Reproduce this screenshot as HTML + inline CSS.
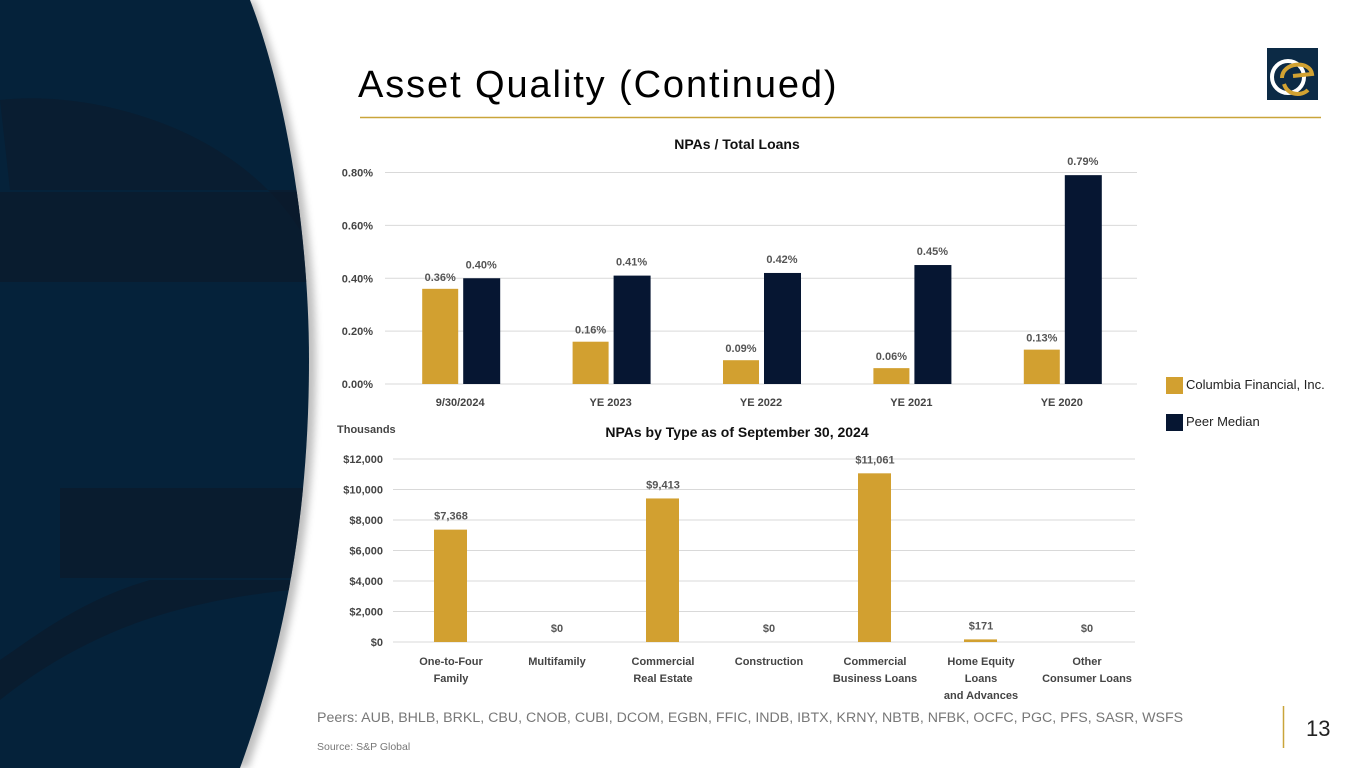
<!DOCTYPE html>
<html><head><meta charset="utf-8"><style>
body{margin:0;width:1365px;height:768px;overflow:hidden;background:#fff;font-family:"Liberation Sans",sans-serif;position:relative}
.abs{position:absolute}
</style></head><body>
<svg class="abs" style="left:0;top:0" width="1365" height="768">
<defs><filter id="sh" x="-10%" y="-10%" width="130%" height="130%"><feGaussianBlur stdDeviation="4"/></filter>
<clipPath id="pc"><path d="M0,0 L250,0 C285,90 309,230 309,360 C309,520 283,650 240,768 L0,768 Z"/></clipPath></defs>
<path d="M0,0 L254,0 C290,90 316,230 316,360 C316,520 290,650 248,768 L0,768 Z" fill="#000" opacity="0.25" filter="url(#sh)"/>
<path d="M0,0 L250,0 C285,90 309,230 309,360 C309,520 283,650 240,768 L0,768 Z" fill="#05223a"/>
<g clip-path="url(#pc)">
<path d="M0,100 C80,90 230,120 300,230 L300,190 L10,190 Z" fill="#0b1a2b" opacity="0.6"/>
<rect x="0" y="192" width="320" height="90" fill="#0b1a2b" opacity="0.7"/>
<rect x="60" y="488" width="260" height="90" fill="#0b1a2b" opacity="0.7"/>
<path d="M0,700 C100,620 200,600 290,590 L290,580 L150,580 C80,600 30,640 0,660 Z" fill="#0b1a2b" opacity="0.7"/>
</g>
<line x1="360" y1="117.5" x2="1321" y2="117.5" stroke="#c9a53a" stroke-width="1.5"/>
<g>
<rect x="1267" y="48" width="51" height="52" fill="#0c2a45"/>
<circle cx="1288" cy="77" r="16" fill="none" stroke="#fff" stroke-width="4"/>
<path d="M1282,78 C1282,62 1310,60 1312,74 L1293,76" fill="none" stroke="#d2a232" stroke-width="4"/>
<path d="M1284,84 C1288,96 1302,96 1308,90" fill="none" stroke="#d2a232" stroke-width="4"/>
</g>
<line x1="1283.5" y1="706" x2="1283.5" y2="748" stroke="#c9a53a" stroke-width="1.5"/>
<g id="c1"></g>
<g id="c2"></g>
</svg>
<div class="abs" style="left:358px;top:64px;font-size:38px;color:#000;letter-spacing:1.9px">Asset Quality (Continued)</div>
<div class="abs" style="left:1166px;top:377px;font-size:13px;color:#222"><span style="display:inline-block;width:17px;height:17px;background:#d2a030;vertical-align:middle;margin-right:3px"></span>Columbia Financial, Inc.</div>
<div class="abs" style="left:1166px;top:414px;font-size:13px;color:#222"><span style="display:inline-block;width:17px;height:17px;background:#061632;vertical-align:middle;margin-right:3px"></span>Peer Median</div>
<div class="abs" style="left:317px;top:710px;font-size:14.2px;color:#777">Peers: AUB, BHLB, BRKL, CBU, CNOB, CUBI, DCOM, EGBN, FFIC, INDB, IBTX, KRNY, NBTB, NFBK, OCFC, PGC, PFS, SASR, WSFS</div>
<div class="abs" style="left:317px;top:741px;font-size:10.5px;color:#777">Source: S&amp;P Global</div>
<div class="abs" style="left:1306px;top:716px;font-size:22px;color:#222">13</div>
<script>
const cats1=["9/30/2024","YE 2023","YE 2022","YE 2021","YE 2020"];
const cfi=[0.36,0.16,0.09,0.06,0.13];
const peer=[0.40,0.41,0.42,0.45,0.79];
const ticks1=[0,0.2,0.4,0.6,0.8];
const cats2=[["One-to-Four","Family"],["Multifamily"],["Commercial","Real Estate"],["Construction"],["Commercial","Business Loans"],["Home Equity","Loans","and Advances"],["Other","Consumer Loans"]];
const npa=[7368,0,9413,0,11061,171,0];
const ticks2=[0,2000,4000,6000,8000,10000,12000];
const NS="http://www.w3.org/2000/svg";
const FONT='"Liberation Sans",sans-serif';
function mk(p,t,a,txt){const e=document.createElementNS(NS,t);for(const k in a)e.setAttribute(k,a[k]);if(txt!==undefined)e.textContent=txt;p.appendChild(e);return e;}
const g1=document.getElementById('c1');
const x0=385,x1=1137,yb=384,yt=172.5;
const y1=v=>yb-(v/0.8)*(yb-yt);
const gw=(x1-x0)/cats1.length;
let t=mk(g1,'text',{x:737,y:149,'text-anchor':'middle','font-size':14,'font-weight':'bold','font-family':FONT,fill:'#111'},'NPAs / Total Loans');


ticks1.forEach(v=>{
 const l=mk(g1,'line',{x1:x0,x2:x1,y1:y1(v),y2:y1(v),stroke:'#d9d9d9','stroke-width':1});
 
 
 const s=mk(g1,'text',{x:373,y:y1(v)+4,'text-anchor':'end','font-size':11,'font-weight':'bold','font-family':FONT,fill:'#444'},v.toFixed(2)+'%');
 
 
});
cats1.forEach((c,i)=>{
 const cx=x0+gw*(i+0.5);
 const a=mk(g1,'rect',{x:cx-38,y:y1(cfi[i]),width:36,height:yb-y1(cfi[i]),fill:'#d2a030'});
 
 
 const b=mk(g1,'rect',{x:cx+3,y:y1(peer[i]),width:37,height:yb-y1(peer[i]),fill:'#061632'});
 
 
 const la=mk(g1,'text',{x:cx-20,y:y1(cfi[i])-8,'text-anchor':'middle','font-size':11,'font-weight':'bold','font-family':FONT,fill:'#555'},cfi[i].toFixed(2)+'%');
 
 
 const lb=mk(g1,'text',{x:cx+21,y:y1(peer[i])-10,'text-anchor':'middle','font-size':11,'font-weight':'bold','font-family':FONT,fill:'#555'},peer[i].toFixed(2)+'%');
 
 
 const xl=mk(g1,'text',{x:cx,y:406,'text-anchor':'middle','font-size':11,'font-weight':'bold','font-family':FONT,fill:'#444'},c);
 
 
});
const g2=document.getElementById('c2');
const X0=393,X1=1135,YB=642,YT=459;
const y2=v=>YB-(v/12000)*(YB-YT);
const gw2=(X1-X0)/cats2.length;
t=mk(g2,'text',{x:737,y:437,'text-anchor':'middle','font-size':14,'font-weight':'bold','font-family':FONT,fill:'#111'},'NPAs by Type as of September 30, 2024');


t=mk(g2,'text',{x:337,y:433,'font-size':11,'font-weight':'bold','font-family':FONT,fill:'#444'},'Thousands');


const fmt=v=>'$'+v.toLocaleString('en-US');
ticks2.forEach(v=>{
 const l=mk(g2,'line',{x1:X0,x2:X1,y1:y2(v),y2:y2(v),stroke:'#d9d9d9','stroke-width':1});
 
 
 const s=mk(g2,'text',{x:383,y:y2(v)+4,'text-anchor':'end','font-size':11,'font-weight':'bold','font-family':FONT,fill:'#444'},fmt(v));
 
 
});
cats2.forEach((c,i)=>{
 const cx=X0+gw2*(i+0.5)+5;
 const r=mk(g2,'rect',{x:cx-17,y:y2(npa[i]),width:33,height:YB-y2(npa[i]),fill:'#d2a030'});
 
 
 const lv=mk(g2,'text',{x:cx,y:y2(npa[i])-10,'text-anchor':'middle','font-size':11,'font-weight':'bold','font-family':FONT,fill:'#555'},fmt(npa[i]));
 
 
 c.forEach((ln,j)=>{
  const xl=mk(g2,'text',{x:cx,y:665+j*17,'text-anchor':'middle','font-size':11,'font-weight':'bold','font-family':FONT,fill:'#444'},ln);
  
  
 });
});
</script>
</body></html>
